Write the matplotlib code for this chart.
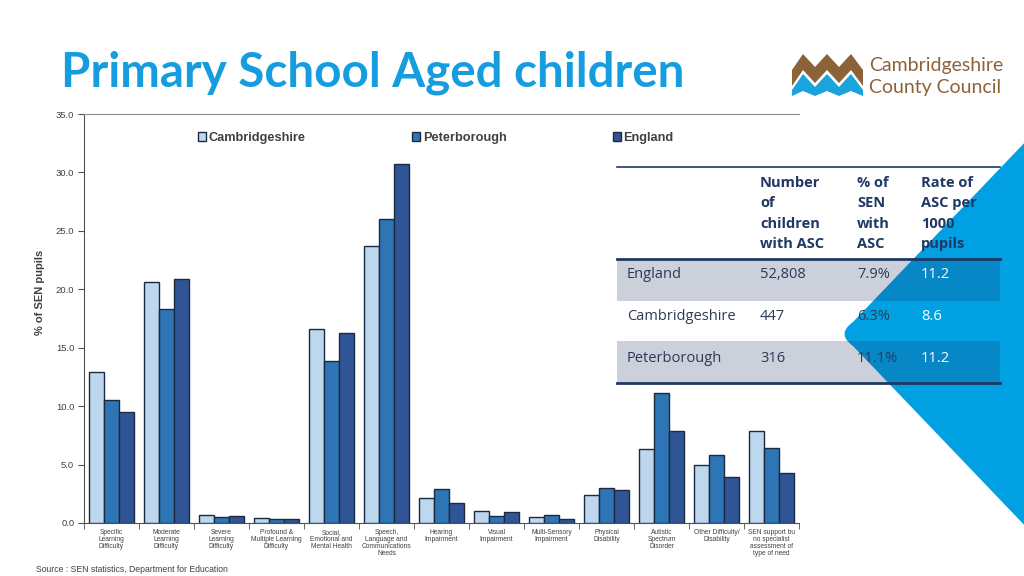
import numpy as np
import matplotlib.pyplot as plt
from matplotlib.patches import Polygon, Rectangle, PathPatch
from matplotlib.path import Path
from matplotlib.lines import Line2D

# SEN primary need, % of SEN pupils
categories = [
    "Specific\nLearning\nDifficulty",
    "Moderate\nLearning\nDifficulty",
    "Severe\nLearning\nDifficulty",
    "Profound &\nMultiple Learning\nDifficulty",
    "Social,\nEmotional and\nMental Health",
    "Speech,\nLanguage and\nCommunications\nNeeds",
    "Hearing\nImpairment",
    "Visual\nImpairment",
    "Multi-Sensory\nImpairment",
    "Physical\nDisability",
    "Autistic\nSpectrum\nDisorder",
    "Other Difficulty/\nDisability",
    "SEN support bu\nno specialist\nassessment of\ntype of need",
]
cambs = [12.9, 20.6, 0.65, 0.45, 16.6, 23.7, 2.1, 1.0, 0.5, 2.4, 6.3, 5.0, 7.9]
pboro = [10.5, 18.3, 0.55, 0.35, 13.9, 26.0, 2.9, 0.6, 0.7, 3.0, 11.1, 5.8, 6.4]
england = [9.5, 20.9, 0.6, 0.3, 16.3, 30.7, 1.7, 0.9, 0.3, 2.8, 7.9, 3.9, 4.3]
series_names = ["Cambridgeshire", "Peterborough", "England"]
yticks = [0, 5, 10, 15, 20, 25, 30, 35]

# ASC summary table
table_header = ["Number\nof\nchildren\nwith ASC", "% of\nSEN\nwith\nASC", "Rate of\nASC per\n1000\npupils"]
table_areas = ["England", "Cambridgeshire", "Peterborough"]
asc_number = ["52,808", "447", "316"]
asc_pct = ["7.9%", "6.3%", "11.1%"]
asc_rate = ["11.2", "8.6", "11.2"]

W, H = 1024, 576


def px(x, y):
    # pixel position (from top-left) -> figure fraction
    return (x / W, 1 - y / H)


fig = plt.figure(figsize=(10.24, 5.76), dpi=100)
ax = fig.add_axes([84 / W, 1 - 523 / H, 715 / W, 409 / H])

x = np.arange(len(categories))
bw = 0.27
colors = ["#bdd7ee", "#2e75b6", "#2f5597"]
for i, (vals, col) in enumerate(zip([cambs, pboro, england], colors)):
    ax.bar(x + (i - 1) * bw, vals, bw, color=col, edgecolor="#1b2a3f",
           linewidth=1.0, label=series_names[i], zorder=3)

ax.set_xlim(-0.5, len(categories) - 0.5)
ax.set_ylim(0, 35)
ax.set_yticks(yticks)
ax.set_yticklabels([f"{v:.1f}" for v in yticks], fontsize=6.8, color="#404040",
                   family="Liberation Sans")
ax.set_xticks(x)
ax.set_xticklabels(categories, fontsize=4.8, color="#404040", linespacing=1.0,
                   family=["Liberation Sans Narrow", "Liberation Sans"], va="top")
ax.set_xticks(np.arange(-0.5, len(categories)), minor=True)
ax.tick_params(axis="x", which="major", length=0, pad=4)
ax.tick_params(axis="x", which="minor", length=4, direction="out", color="#505050")
ax.tick_params(axis="y", length=4, direction="out", color="#505050", pad=3)
for s in ["left", "bottom"]:
    ax.spines[s].set_color("#505050")
ax.spines["top"].set_color("#8a8a8a")
ax.spines["right"].set_visible(False)

ax.legend(loc="center left", bbox_to_anchor=((198 - 84) / 715, (523 - 138) / 409),
          ncol=3, frameon=False, handlelength=0.65, handleheight=0.65,
          handletextpad=0.2, columnspacing=8.3, borderpad=0, borderaxespad=0,
          prop={"family": "Liberation Sans", "weight": "bold", "size": 9.2},
          labelcolor="#404040")

fig.text(*px(40, 292), "% of SEN pupils", rotation=90, ha="center", va="center",
         fontsize=8, fontweight="bold", color="#404040", family="Liberation Sans")
fig.text(*px(36, 570), "Source : SEN statistics, Department for Education",
         ha="left", va="center", fontsize=6.2, color="#404040", family="Liberation Sans")

# title
fig.text(*px(61, 73), "Primary School Aged children", ha="left", va="center",
         fontsize=34.2, fontweight="bold", color="#159ddf", family="Lato")

# logo
zig = [(792, 70), (803, 54), (815, 67), (827, 54), (839, 67), (851, 54), (863, 70)]
brown_bot = [(a, b + 16) for a, b in zig]
blue_top = [(a, b + 20) for a, b in zig]
blue_bot = [(a, min(b + 37, 96)) for a, b in zig]
for top, bot, col in [(zig, brown_bot, "#8c6239"), (blue_top, blue_bot, "#1aa3dc")]:
    pts = [px(*p) for p in top + bot[::-1]]
    fig.add_artist(Polygon(pts, closed=True, transform=fig.transFigure,
                           facecolor=col, edgecolor="none"))
fig.text(*px(869, 66), "Cambridgeshire", ha="left", va="center", fontsize=14,
         color="#8c6239", family="Lato")
fig.text(*px(869, 87), "County Council", ha="left", va="center", fontsize=14,
         color="#8c6239", family="Lato")

# blue corner shape with rounded tip
verts = [px(1030, 137), px(853, 322), px(836, 334), px(853, 346), px(1030, 531), px(1030, 137)]
codes = [Path.MOVETO, Path.LINETO, Path.CURVE3, Path.CURVE3, Path.LINETO, Path.CLOSEPOLY]
fig.add_artist(PathPatch(Path(verts, codes), transform=fig.transFigure,
                         facecolor="#00a0e3", edgecolor="none", zorder=1))

# table
tx0, tx1 = 617, 1000
row_tops = [259, 300, 341]
row_h = 41.5
for i, top in enumerate(row_tops):
    if i % 2 == 0:
        fig.add_artist(Rectangle(px(tx0, top + row_h), (tx1 - tx0) / W, row_h / H,
                                 transform=fig.transFigure, facecolor="#1f3864",
                                 alpha=0.23, edgecolor="none", zorder=2))
for yy, lw in [(167, 1.2), (259, 2.0), (383, 2.0)]:
    fig.add_artist(Line2D([tx0 / W, tx1 / W], [1 - yy / H] * 2, color="#1f3864",
                          linewidth=lw, transform=fig.transFigure, zorder=2))

col_x = [627, 760, 857, 921]
navy = "#1f3864"
for j, head in enumerate(table_header):
    for k, line in enumerate(head.split("\n")):
        fig.text(*px(col_x[j + 1], 183 + 20.3 * k), line, ha="left", va="center",
                 fontsize=10.5, fontweight="bold", color=navy, family="Open Sans")
row_y = [275, 316, 358]
for i in range(len(table_areas)):
    vals = [table_areas[i], asc_number[i], asc_pct[i], asc_rate[i]]
    for j, v in enumerate(vals):
        fig.text(*px(col_x[j], row_y[i]), v, ha="left", va="center", fontsize=10.5,
                 color="white" if j == 3 else "#2b3a55", family="Open Sans")

fig.savefig("out.png", dpi=100)
